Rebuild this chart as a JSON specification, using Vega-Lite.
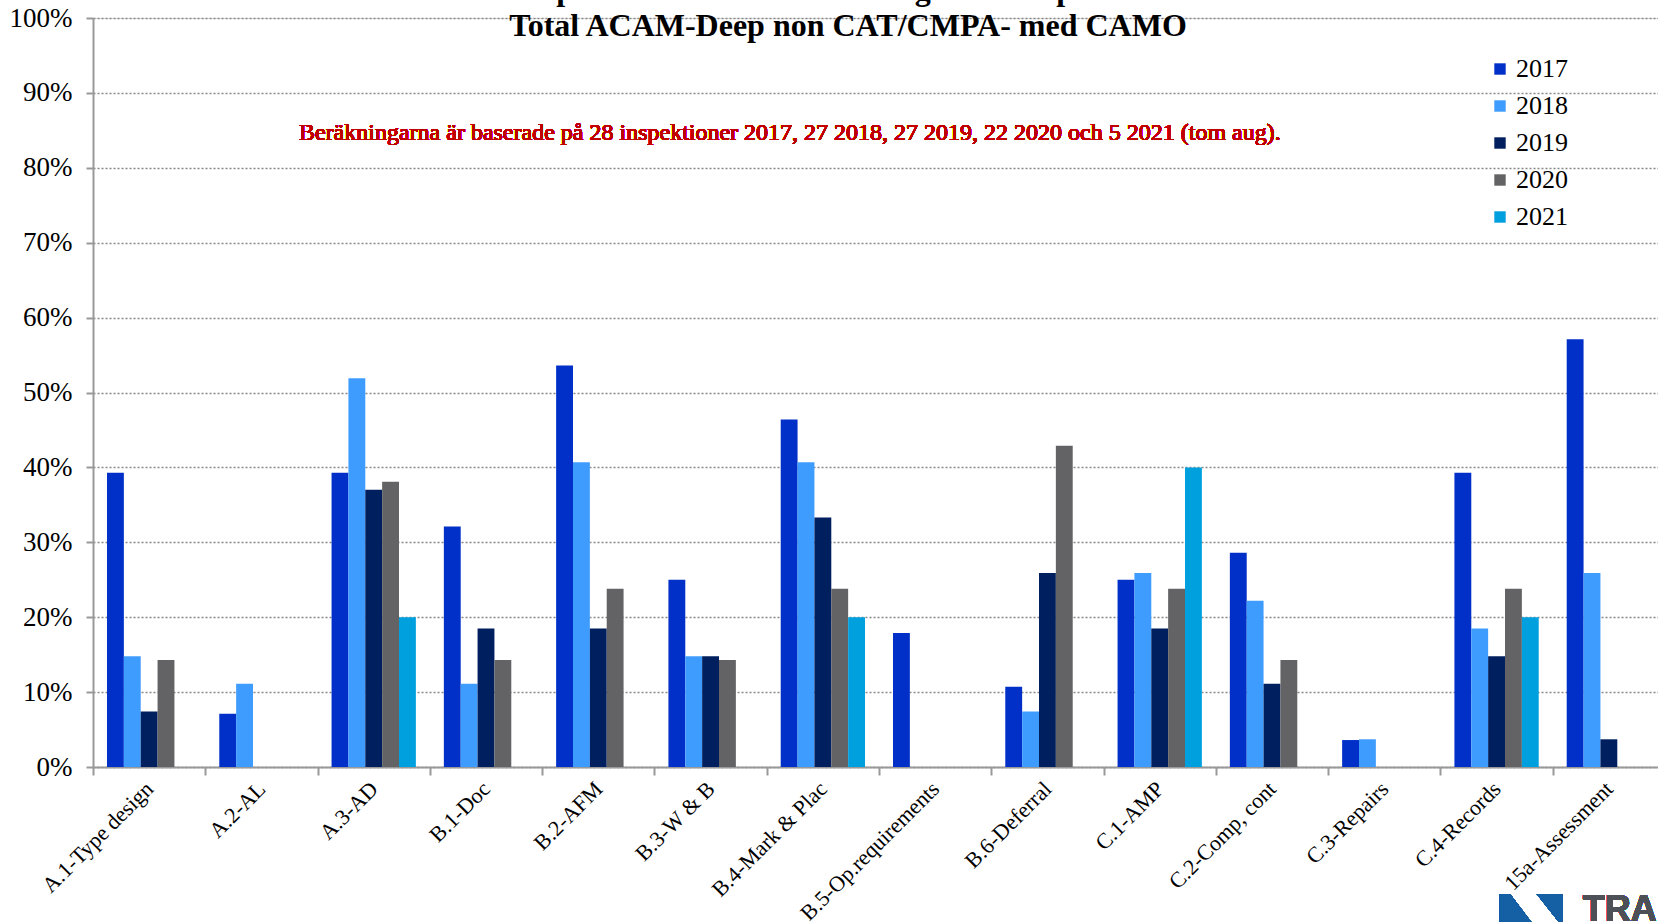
{
  "$schema": "https://vega.github.io/schema/vega-lite/v6.json",
  "autosize": {"type": "none"},
  "padding": {"left": 93, "top": 18, "right": 0, "bottom": 155},
  "width": 1572,
  "height": 749,
  "background": "white",
  "title": {
    "text": ["Andel inspektioner med anmärkning inom respektive område", "Total ACAM-Deep non CAT/CMPA- med CAMO"],
    "font": "Liberation Serif",
    "fontWeight": "bold",
    "fontSize": 32,
    "lineHeight": 36,
    "color": "black",
    "anchor": "middle",
    "dx": -31,
    "offset": -39
  },
  "data": {
    "values": [
      {"cat": "A.1-Type design", "year": "2017", "value": 0.393},
      {"cat": "A.1-Type design", "year": "2018", "value": 0.148},
      {"cat": "A.1-Type design", "year": "2019", "value": 0.074},
      {"cat": "A.1-Type design", "year": "2020", "value": 0.143},
      {"cat": "A.2-AL", "year": "2017", "value": 0.071},
      {"cat": "A.2-AL", "year": "2018", "value": 0.111},
      {"cat": "A.3-AD", "year": "2017", "value": 0.393},
      {"cat": "A.3-AD", "year": "2018", "value": 0.519},
      {"cat": "A.3-AD", "year": "2019", "value": 0.370},
      {"cat": "A.3-AD", "year": "2020", "value": 0.381},
      {"cat": "A.3-AD", "year": "2021", "value": 0.200},
      {"cat": "B.1-Doc", "year": "2017", "value": 0.321},
      {"cat": "B.1-Doc", "year": "2018", "value": 0.111},
      {"cat": "B.1-Doc", "year": "2019", "value": 0.185},
      {"cat": "B.1-Doc", "year": "2020", "value": 0.143},
      {"cat": "B.2-AFM", "year": "2017", "value": 0.536},
      {"cat": "B.2-AFM", "year": "2018", "value": 0.407},
      {"cat": "B.2-AFM", "year": "2019", "value": 0.185},
      {"cat": "B.2-AFM", "year": "2020", "value": 0.238},
      {"cat": "B.3-W & B", "year": "2017", "value": 0.250},
      {"cat": "B.3-W & B", "year": "2018", "value": 0.148},
      {"cat": "B.3-W & B", "year": "2019", "value": 0.148},
      {"cat": "B.3-W & B", "year": "2020", "value": 0.143},
      {"cat": "B.4-Mark & Plac", "year": "2017", "value": 0.464},
      {"cat": "B.4-Mark & Plac", "year": "2018", "value": 0.407},
      {"cat": "B.4-Mark & Plac", "year": "2019", "value": 0.333},
      {"cat": "B.4-Mark & Plac", "year": "2020", "value": 0.238},
      {"cat": "B.4-Mark & Plac", "year": "2021", "value": 0.200},
      {"cat": "B.5-Op.requirements", "year": "2017", "value": 0.179},
      {"cat": "B.6-Deferral", "year": "2017", "value": 0.107},
      {"cat": "B.6-Deferral", "year": "2018", "value": 0.074},
      {"cat": "B.6-Deferral", "year": "2019", "value": 0.259},
      {"cat": "B.6-Deferral", "year": "2020", "value": 0.429},
      {"cat": "C.1-AMP", "year": "2017", "value": 0.250},
      {"cat": "C.1-AMP", "year": "2018", "value": 0.259},
      {"cat": "C.1-AMP", "year": "2019", "value": 0.185},
      {"cat": "C.1-AMP", "year": "2020", "value": 0.238},
      {"cat": "C.1-AMP", "year": "2021", "value": 0.400},
      {"cat": "C.2-Comp, cont", "year": "2017", "value": 0.286},
      {"cat": "C.2-Comp, cont", "year": "2018", "value": 0.222},
      {"cat": "C.2-Comp, cont", "year": "2019", "value": 0.111},
      {"cat": "C.2-Comp, cont", "year": "2020", "value": 0.143},
      {"cat": "C.3-Repairs", "year": "2017", "value": 0.036},
      {"cat": "C.3-Repairs", "year": "2018", "value": 0.037},
      {"cat": "C.4-Records", "year": "2017", "value": 0.393},
      {"cat": "C.4-Records", "year": "2018", "value": 0.185},
      {"cat": "C.4-Records", "year": "2019", "value": 0.148},
      {"cat": "C.4-Records", "year": "2020", "value": 0.238},
      {"cat": "C.4-Records", "year": "2021", "value": 0.200},
      {"cat": "15a-Assessment", "year": "2017", "value": 0.571},
      {"cat": "15a-Assessment", "year": "2018", "value": 0.259},
      {"cat": "15a-Assessment", "year": "2019", "value": 0.037}
    ]
  },
  "layer": [
    {
      "mark": {"type": "bar"},
      "encoding": {
        "x": {
          "field": "cat", "type": "nominal", "sort": null,
          "scale": {"paddingInner": 0, "paddingOuter": 0},
          "axis": {
            "title": null,
            "labelAngle": -45,
            "labelAlign": "right",
            "labelBaseline": "middle",
            "labelFont": "Liberation Serif",
            "labelFontSize": 22,
            "labelColor": "black",
            "labelPadding": 10,
            "labelLimit": 400,
            "tickBand": "extent",
            "tickSize": 8,
            "tickColor": "#999999",
            "tickWidth": 2,
            "domainColor": "#999999",
            "domainWidth": 2,
            "grid": false
          }
        },
        "xOffset": {
          "field": "year", "type": "nominal",
          "scale": {"paddingInner": 0, "paddingOuter": 0.83}
        },
        "y": {
          "field": "value", "type": "quantitative",
          "scale": {"domain": [0, 1], "nice": false},
          "axis": {
            "title": null,
            "format": ".0%",
            "values": [0, 0.1, 0.2, 0.3, 0.4, 0.5, 0.6, 0.7, 0.8, 0.9, 1.0],
            "labelFont": "Liberation Serif",
            "labelFontSize": 27,
            "labelColor": "black",
            "labelPadding": 14,
            "tickSize": 7,
            "tickColor": "#999999",
            "tickWidth": 2,
            "domainColor": "#999999",
            "domainWidth": 2,
            "grid": true,
            "gridColor": "#888888",
            "gridDash": [2, 2],
            "gridWidth": 1.5
          }
        },
        "color": {
          "field": "year", "type": "nominal",
          "scale": {
            "domain": ["2017", "2018", "2019", "2020", "2021"],
            "range": ["#0030C8", "#3F9CFF", "#001F5F", "#636365", "#00A0DF"]
          },
          "legend": {
            "title": null,
            "orient": "none",
            "legendX": 1394,
            "legendY": 38,
            "symbolType": "square",
            "symbolSize": 130,
            "symbolStrokeWidth": 0,
            "labelFont": "Liberation Serif",
            "labelFontSize": 26,
            "labelColor": "black",
            "labelOffset": 3,
            "rowPadding": 11
          }
        }
      }
    },
    {
      "mark": {
        "type": "text",
        "text": "Beräkningarna är baserade på 28 inspektioner 2017, 27 2018, 27 2019, 22 2020 och 5 2021 (tom aug).",
        "font": "Liberation Serif",
        "fontWeight": 400,
        "fontSize": 24,
        "fill": "#C00000",
        "strokeWidth": 0,
        "align": "center",
        "baseline": "alphabetic",
        "dx": -33
      },
      "encoding": {
        "x": {"datum": "B.4-Mark & Plac", "type": "nominal"},
        "y": {"datum": 0.837, "type": "quantitative", "scale": {"domain": [0, 1], "nice": false}}
      }
    },
    {
      "mark": {
        "type": "point",
        "shape": "M-1,-1L-0.68,-1L0.84,1L-1,1Z M0.17,-1L1,-1L1,0.05Z",
        "filled": true,
        "opacity": 1,
        "color": "#155FA5",
        "size": 3969
      },
      "encoding": {
        "x": {"datum": "C.4-Records", "type": "nominal", "bandPosition": 0.81},
        "y": {"datum": -0.2116, "type": "quantitative", "scale": {"domain": [0, 1], "nice": false}}
      }
    },
    {
      "mark": {
        "type": "text",
        "text": "TRANSPORTSTYRELSEN",
        "font": "Liberation Sans",
        "fontWeight": "bold",
        "fontSize": 36,
        "fill": "#4D5157",
        "strokeWidth": 0,
        "align": "left",
        "baseline": "top",
        "dx": -26
      },
      "encoding": {
        "x": {"datum": "15a-Assessment", "type": "nominal"},
        "y": {"datum": -0.168, "type": "quantitative", "scale": {"domain": [0, 1], "nice": false}}
      }
    }
  ]
}
